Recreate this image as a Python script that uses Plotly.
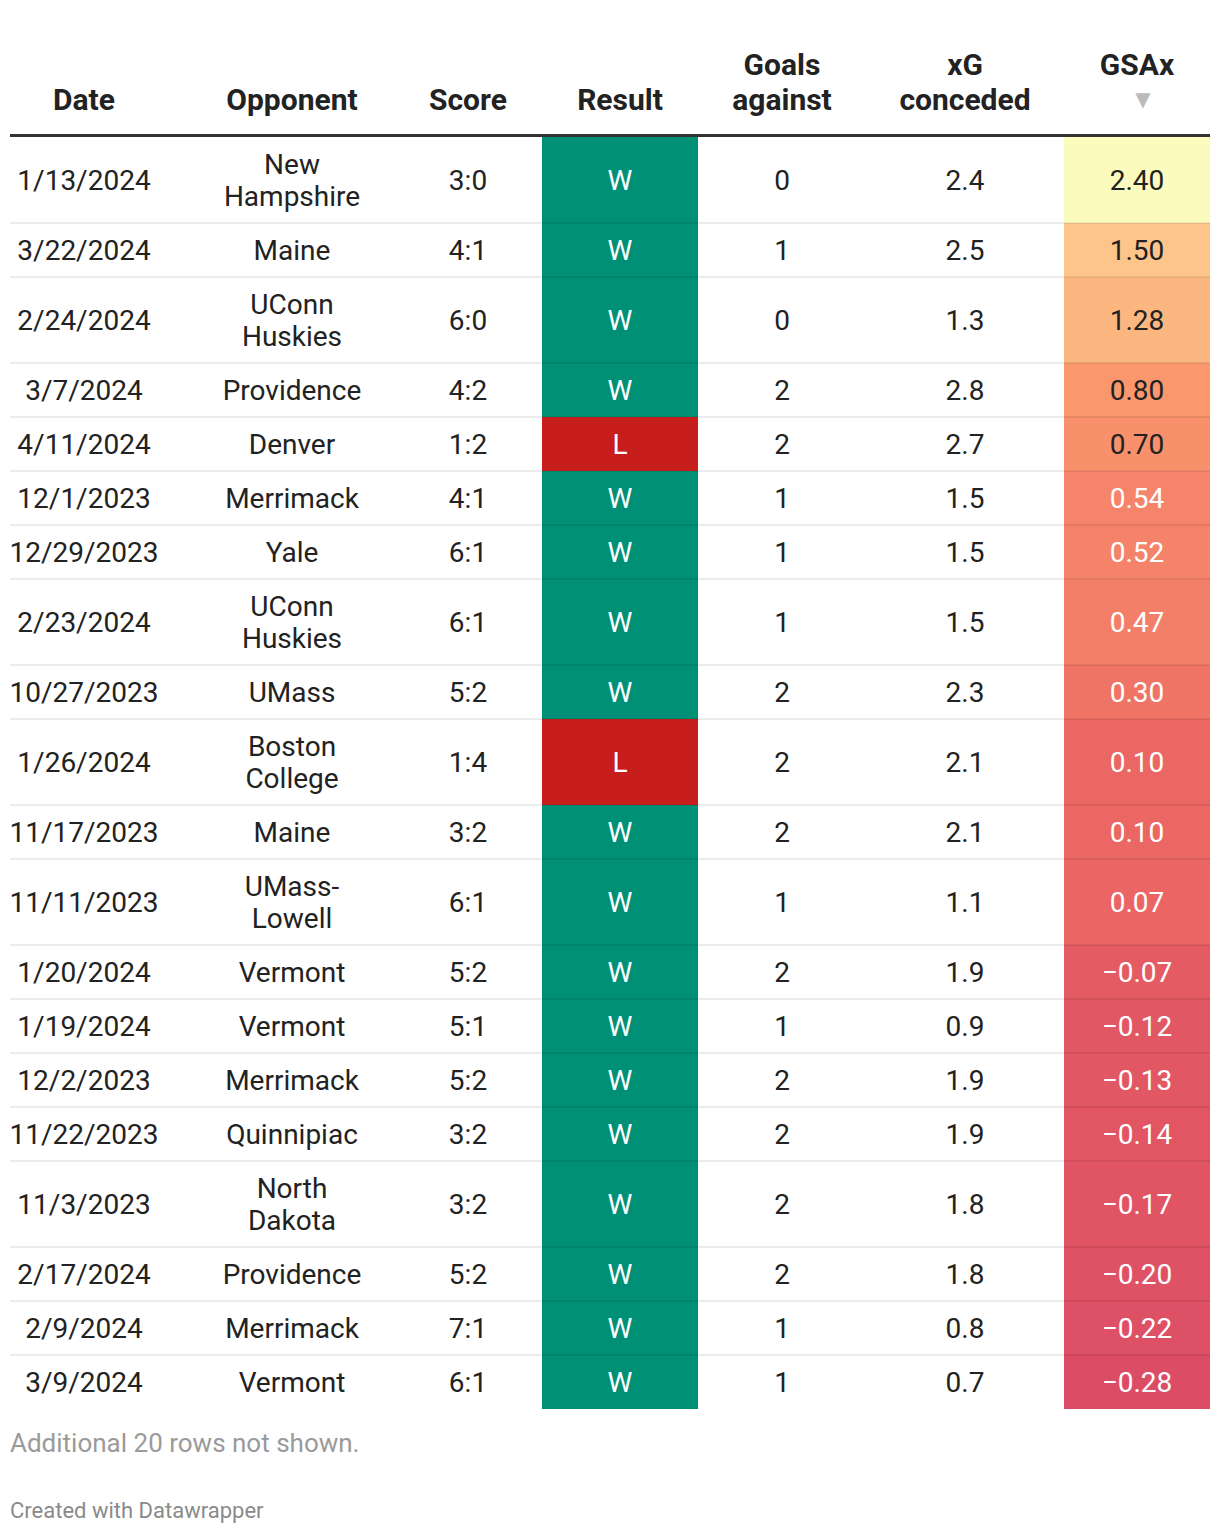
import plotly.graph_objects as go
from plotly.colors import sample_colorscale

# DATA
dates = ["1/13/2024", "3/22/2024", "2/24/2024", "3/7/2024", "4/11/2024", "12/1/2023",
         "12/29/2023", "2/23/2024", "10/27/2023", "1/26/2024", "11/17/2023", "11/11/2023",
         "1/20/2024", "1/19/2024", "12/2/2023", "11/22/2023", "11/3/2023", "2/17/2024",
         "2/9/2024", "3/9/2024"]
opponents = ["New<br>Hampshire", "Maine", "UConn<br>Huskies", "Providence", "Denver",
             "Merrimack", "Yale", "UConn<br>Huskies", "UMass", "Boston<br>College", "Maine",
             "UMass-<br>Lowell", "Vermont", "Vermont", "Merrimack", "Quinnipiac",
             "North<br>Dakota", "Providence", "Merrimack", "Vermont"]
scores = ["3:0", "4:1", "6:0", "4:2", "1:2", "4:1", "6:1", "6:1", "5:2", "1:4",
          "3:2", "6:1", "5:2", "5:1", "5:2", "3:2", "3:2", "5:2", "7:1", "6:1"]
results = ["W", "W", "W", "W", "L", "W", "W", "W", "W", "L",
           "W", "W", "W", "W", "W", "W", "W", "W", "W", "W"]
goals_against = [0, 1, 0, 2, 2, 1, 1, 1, 2, 2, 2, 1, 2, 1, 2, 2, 2, 2, 1, 1]
xg_conceded = [2.4, 2.5, 1.3, 2.8, 2.7, 1.5, 1.5, 1.5, 2.3, 2.1,
               2.1, 1.1, 1.9, 0.9, 1.9, 1.9, 1.8, 1.8, 0.8, 0.7]
gsax = [2.40, 1.50, 1.28, 0.80, 0.70, 0.54, 0.52, 0.47, 0.30, 0.10,
        0.10, 0.07, -0.07, -0.12, -0.13, -0.14, -0.17, -0.20, -0.22, -0.28]
headers = ["Date", "Opponent", "Score", "Result", "Goals<br>against", "xG<br>conceded", "GSAx"]
note = "Additional 20 rows not shown."
credit = "Created with Datawrapper"

# LAYOUT / STYLE
W, H = 1220, 1534
pad = 8  # page body margin; axes are shifted so coordinates equal page pixels
left, right = 10, 1210
col_x = [84, 292, 468, 620, 782, 965, 1137]
result_cell = (542, 698)
gsax_cell = (1064, 1210)
table_top = 137
single_h, double_h = 54, 86
line_gap = 32
text_dy = 3  # plotly's "middle" sits a little high
font = "Roboto"
dark = "#222222"
result_colors = {"W": "#009076", "L": "#c71e1d"}
gsax_stops = [(-0.28, "#dc4c65"), (0.07, "#ea6563"), (0.54, "#f5846a"),
              (0.80, "#fa976d"), (1.50, "#fdc58a"), (2.40, "#fcfbbe")]

lo, hi = min(gsax), max(gsax)
scale = [[(v - lo) / (hi - lo), c] for v, c in gsax_stops]
gsax_colors = sample_colorscale(scale, [(v - lo) / (hi - lo) for v in gsax])


def fmt_gsax(v):
    s = f"{abs(v):.2f}"
    return ("\u2212" + s) if v < 0 else s


# row geometry from the number of text lines
tops, centers, bottoms = [], [], []
y = table_top
for opp in opponents:
    h = double_h if "<br>" in opp else single_h
    tops.append(y)
    centers.append(y + h / 2)
    bottoms.append(y + h)
    y += h

fig = go.Figure()
shapes = []

# coloured cells
for i, r in enumerate(results):
    shapes.append(dict(type="rect", xref="x", yref="y", x0=result_cell[0], x1=result_cell[1],
                       y0=tops[i], y1=bottoms[i], fillcolor=result_colors[r], line_width=0, layer="below"))
for i, c in enumerate(gsax_colors):
    shapes.append(dict(type="rect", xref="x", yref="y", x0=gsax_cell[0], x1=gsax_cell[1],
                       y0=tops[i], y1=bottoms[i], fillcolor=c, line_width=0, layer="below"))

# row separators
for b in bottoms[:-1]:
    shapes.append(dict(type="line", xref="x", yref="y", x0=left, x1=right, y0=b, y1=b,
                       line=dict(color="rgba(0,0,0,0.075)", width=2)))

# header rule
shapes.append(dict(type="line", xref="x", yref="y", x0=left, x1=right, y0=135.5, y1=135.5,
                   line=dict(color="#333333", width=3)))


def add_text(xs, ys, texts, colors, size=28, gap=line_gap):
    px, py, pt, pc = [], [], [], []
    for x, yc, t, c in zip(xs, ys, texts, colors):
        lines = str(t).split("<br>")
        n = len(lines)
        for k, ln in enumerate(lines):
            px.append(x)
            py.append(yc + text_dy + (k - (n - 1) / 2) * gap)
            pt.append(ln)
            pc.append(c)
    fig.add_trace(go.Scatter(x=px, y=py, text=pt, mode="text", textposition="middle center",
                             textfont=dict(family=font, size=size, color=pc),
                             hoverinfo="skip", showlegend=False))


n = len(dates)
columns = [dates, opponents, scores, results, goals_against,
           [f"{v:.1f}" for v in xg_conceded], [fmt_gsax(v) for v in gsax]]
for j, col in enumerate(columns):
    if j == 3:
        colors = ["white"] * n
    elif j == 6:
        colors = [dark if v >= 0.6 else "white" for v in gsax]
    else:
        colors = [dark] * n
    add_text([col_x[j]] * n, centers, col, colors)

# headers (bottom aligned)
hx, hy, ht = [], [], []
for j, h in enumerate(headers):
    lines = h.split("<br>")
    for k, ln in enumerate(lines):
        hx.append(col_x[j])
        hy.append(99 + text_dy - (len(lines) - 1 - k) * 35)
        ht.append(f"<b>{ln}</b>")
# GSAx header sits on the first line with a sort arrow beneath
hy[-1] = 64 + text_dy
fig.add_trace(go.Scatter(x=hx, y=hy, text=ht, mode="text", textposition="middle center",
                         textfont=dict(family=font, size=30, color=dark),
                         hoverinfo="skip", showlegend=False))
fig.add_trace(go.Scatter(x=[1143], y=[101], text=["\u25BC"], mode="text",
                         textposition="middle center",
                         textfont=dict(family="DejaVu Sans", size=20, color="#bbbbbb"),
                         hoverinfo="skip", showlegend=False))

annotations = [
    dict(x=left - 2, y=1443, text=note, xref="x", yref="y", xanchor="left", yanchor="middle",
         showarrow=False, font=dict(family=font, size=26, color="#9a9a9a")),
    dict(x=left - 2, y=1510, text=credit, xref="x", yref="y", xanchor="left", yanchor="middle",
         showarrow=False, font=dict(family=font, size=22, color="#8a8a8a")),
]

fig.update_layout(
    width=W - pad, height=H - pad,
    margin=dict(l=0, r=0, t=0, b=0),
    paper_bgcolor="white", plot_bgcolor="white",
    xaxis=dict(range=[pad, W], visible=False, fixedrange=True),
    yaxis=dict(range=[H, pad], visible=False, fixedrange=True),
    shapes=shapes, annotations=annotations,
    showlegend=False,
)

fig.write_html("out.html")
